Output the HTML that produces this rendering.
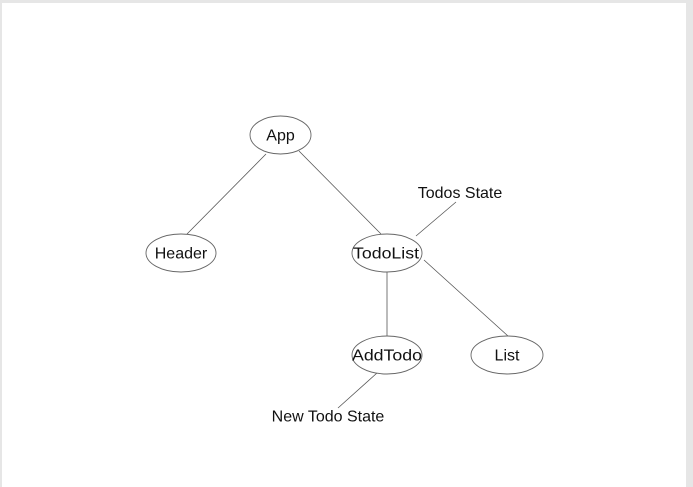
<!DOCTYPE html>
<html><head><style>
html,body{margin:0;padding:0;background:#fff;}
body{width:693px;height:487px;overflow:hidden;position:relative;}
</style></head><body>
<svg width="693" height="487" xmlns="http://www.w3.org/2000/svg" style="position:absolute;left:0;top:0">
<rect x="0" y="0" width="693" height="487" fill="#e6e6e6"/>
<rect x="2" y="3" width="684" height="484" fill="#fff"/>
<g stroke="#555" stroke-width="0.8" fill="none">
<line x1="266" y1="154" x2="187" y2="234"/>
<line x1="299" y1="151" x2="381" y2="234"/>
<line x1="416" y1="236" x2="456" y2="202"/>
<line x1="424" y1="260" x2="508" y2="336"/>
<line x1="387" y1="272" x2="387" y2="336"/>
<line x1="377" y1="373" x2="338" y2="408"/>
</g>
<g stroke="#666" stroke-width="0.9" fill="#fff">
<ellipse cx="280.5" cy="135" rx="30.5" ry="19"/>
<ellipse cx="181" cy="253" rx="35" ry="19"/>
<ellipse cx="387" cy="253" rx="35" ry="19"/>
<ellipse cx="387" cy="355" rx="35" ry="19"/>
<ellipse cx="507" cy="355" rx="36" ry="19"/>
</g>
<g font-family="Liberation Sans, sans-serif" font-size="16" fill="#111" text-anchor="middle">
<text x="280.5" y="140.5">App</text>
<text x="181" y="258.5">Header</text>
<text x="386" y="258.5" textLength="66" lengthAdjust="spacingAndGlyphs">TodoList</text>
<text x="387" y="360.5" textLength="70" lengthAdjust="spacingAndGlyphs">AddTodo</text>
<text x="507" y="360.5">List</text>
<text x="460" y="198">Todos State</text>
<text x="328" y="421.5">New Todo State</text>
</g>
</svg>
</body></html>
